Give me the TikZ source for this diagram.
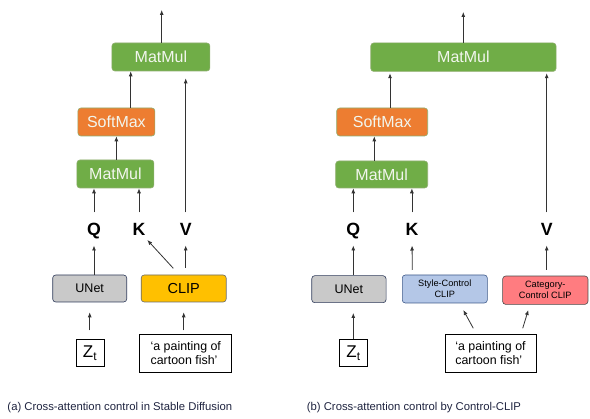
\documentclass[tikz,border=0pt]{standalone}
\usepackage{fontspec}
\setmainfont{Liberation Sans}
\usetikzlibrary{arrows.meta}
\definecolor{mmgreen}{HTML}{70AD47}
\definecolor{mmborder}{HTML}{8FAE6F}
\definecolor{smorange}{HTML}{ED7D31}
\definecolor{unetgray}{HTML}{C9C9C9}
\definecolor{unetborder}{HTML}{2F3B5A}
\definecolor{clipyellow}{HTML}{FFC000}
\definecolor{clipborder}{HTML}{6B6B6B}
\definecolor{styleblue}{HTML}{B4C7E7}
\definecolor{styleborder}{HTML}{3F5A8A}
\definecolor{catred}{HTML}{FF7C80}
\definecolor{catborder}{HTML}{4A4A4A}
\definecolor{arrowgray}{HTML}{333333}
\definecolor{captionblue}{HTML}{1F2440}
\definecolor{lighttext}{HTML}{F2F6EE}
\begin{document}
\begin{tikzpicture}[x=1pt,y=-1pt,
  box/.style={rounded corners=3pt, line width=0.6pt, inner sep=0pt, align=center},
  opbox/.style={box, draw=mmborder, text=lighttext, font=\fontsize{16}{18}\selectfont},
  greenbox/.style={opbox, fill=mmgreen},
  orangebox/.style={opbox, fill=smorange},
  qkv/.style={font=\fontsize{17.7}{18}\selectfont\bfseries, inner sep=0pt, outer sep=10pt, text height=13pt, text depth=0pt},
  arr/.style={draw=arrowgray, line width=0.8pt, -{Latex[length=5pt,width=4pt]}},
  plainbox/.style={draw=black, line width=0.8pt, inner sep=0pt},
  caption/.style={text=captionblue, font=\fontsize{11.3}{13}\selectfont, anchor=west, inner sep=0pt}
]
\useasboundingbox (0,0) rectangle (590,419);

% ---------------- Left diagram ----------------
\node[greenbox, minimum width=98pt, minimum height=28pt] (mm2a) at (160.9,57) {MatMul};
\node[orangebox, minimum width=77pt, minimum height=28pt] (smA) at (116.4,122) {SoftMax};
\node[greenbox, minimum width=77pt, minimum height=28pt] (mm1a) at (115.4,174) {MatMul};
\node[qkv] (Qa) at (94,229) {Q};
\node[qkv] (Ka) at (139,229) {K};
\node[qkv] (Va) at (185.7,229) {V};
\node[box, draw=unetborder, fill=unetgray, minimum width=74pt, minimum height=27pt, font=\fontsize{12.5}{14}\selectfont] (unetA) at (89.7,288.5) {UNet};
\node[box, draw=clipborder, fill=clipyellow, minimum width=85pt, minimum height=27pt, font=\fontsize{14.5}{16}\selectfont] (clipA) at (183.7,288.5) {CLIP};
\node[plainbox, minimum width=28pt, minimum height=27pt, font=\fontsize{17}{17}\selectfont] (ztA) at (90,353) {\(\mathrm{Z}_{\mathrm{t}}\)};
\node[plainbox, minimum width=92pt, minimum height=38pt, align=left, font=\fontsize{12.4}{14}\selectfont] (txtA) at (185.8,353.3) {‘a painting of\\cartoon fish’};

\coordinate (outA) at (161.7,10);
\coordinate (smxA) at (130.7,0);
\coordinate (kA0) at (173.3,268.3);
\coordinate (kA1) at (147.3,240);
\coordinate (vA0) at (185.7,268);

\draw[arr] (mm2a.north -| outA) -- (outA);
\draw[arr] (smA.north -| smxA) -- (mm2a.south -| smxA);
\draw[arr] (mm1a.north -| smA.south) -- (smA.south);
\draw[arr] (Qa) -- (Qa |- mm1a.south);
\draw[arr] (Ka) -- (Ka |- mm1a.south);
\draw[arr, shorten >=7pt] (Va) -- (Va |- mm2a.south);
\draw[arr] (unetA.north -| Qa) -- (Qa);
\draw[arr] (kA0) -- (kA1);
\draw[arr] (vA0) -- (Va);
\draw[arr, shorten <=8.6pt, shorten >=10pt] (ztA.north -| unetA.south) -- (unetA.south);
\draw[arr, shorten <=3.6pt, shorten >=10pt] (txtA.north -| clipA.south) -- (clipA.south);

\node[caption] (capA) at (7.3,408) {(a) Cross-attention control in Stable Diffusion};

% ---------------- Right diagram ----------------
\node[greenbox, minimum width=185.3pt, minimum height=28.5pt] (mm2b) at (463.4,57.2) {MatMul};
\node[orangebox, minimum width=91pt, minimum height=28pt] (smB) at (382.2,122) {SoftMax};
\node[greenbox, minimum width=92pt, minimum height=27pt] (mm1b) at (381.7,174.5) {MatMul};
\node[qkv] (Qb) at (353.3,229) {Q};
\node[qkv] (Kb) at (411.9,229) {K};
\node[qkv] (Vb) at (546.7,229) {V};
\node[box, draw=unetborder, fill=unetgray, minimum width=74.3pt, minimum height=27pt, font=\fontsize{12.5}{14}\selectfont] (unetB) at (348.9,289.2) {UNet};
\node[box, draw=styleborder, fill=styleblue, minimum width=85pt, minimum height=28pt, font=\fontsize{9.2}{11}\selectfont] (styleB) at (444.8,289) {Style-Control\\CLIP};
\node[box, draw=catborder, fill=catred, minimum width=85.3pt, minimum height=28.3pt, font=\fontsize{9.2}{11}\selectfont] (catB) at (545.3,290.2) {Category-\\Control CLIP};
\node[plainbox, minimum width=28.4pt, minimum height=27.4pt, font=\fontsize{17}{17}\selectfont] (ztB) at (353.5,353) {\(\mathrm{Z}_{\mathrm{t}}\)};
\node[plainbox, minimum width=91pt, minimum height=38pt, align=left, font=\fontsize{12.4}{14}\selectfont] (txtB) at (490.5,353.3) {‘a painting of\\cartoon fish’};

\coordinate (outB) at (463.3,12);
\coordinate (smxB) at (390,0);
\coordinate (mmxB) at (374.3,0);
\coordinate (kB0) at (412.3,270);
\coordinate (vB0) at (546.7,270);
\coordinate (s0) at (473.3,328.3);
\coordinate (s1) at (463.3,310);
\coordinate (c0) at (522.7,328.3);
\coordinate (c1) at (528.3,310);

\draw[arr] (mm2b.north -| outB) -- (outB);
\draw[arr, shorten >=1.5pt] (smB.north -| smxB) -- (mm2b.south -| smxB);
\draw[arr] (mm1b.north -| mmxB) -- (smB.south -| mmxB);
\draw[arr] (Qb) -- (Qb |- mm1b.south);
\draw[arr] (Kb) -- (Kb |- mm1b.south);
\draw[arr, shorten >=1.5pt] (Vb) -- (Vb |- mm2b.south);
\draw[arr] (unetB.north -| Qb) -- (Qb);
\draw[arr] (kB0) -- (Kb);
\draw[arr] (vB0) -- (Vb);
\draw[arr] (s0) -- (s1);
\draw[arr] (c0) -- (c1);
\draw[arr, shorten >=10pt] (ztB.north -| Qb) -- (unetB.south -| Qb);

\node[caption] (capB) at (306.7,408) {(b) Cross-attention control by Control-CLIP};
\end{tikzpicture}
\end{document}
